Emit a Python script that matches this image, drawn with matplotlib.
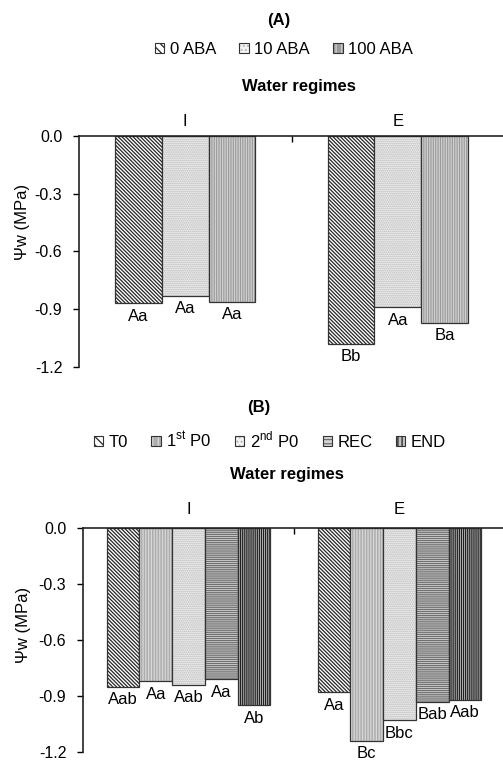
import matplotlib
matplotlib.use('Agg')
import matplotlib.pyplot as plt
import numpy as np
from matplotlib.patches import Patch
from matplotlib.ticker import FormatStrFormatter

plt.rcParams['font.family'] = ['Liberation Sans', 'DejaVu Sans']
plt.rcParams['mathtext.fontset'] = 'custom'
plt.rcParams['mathtext.rm'] = 'Liberation Sans'
plt.rcParams['axes.unicode_minus'] = False
plt.rcParams['hatch.linewidth'] = 0.9

# dados
regimes = ['I', 'E']

aba_names = ['0 ABA', '10 ABA', '100 ABA']
aba_values = [[-0.87, -1.08],
              [-0.83, -0.89],
              [-0.86, -0.97]]
aba_letters = [['Aa', 'Bb'],
               ['Aa', 'Aa'],
               ['Aa', 'Ba']]

time_names = ['T0', '1$^{\\mathrm{st}}$ P0', '2$^{\\mathrm{nd}}$ P0', 'REC', 'END']
time_values = [[-0.85, -0.88],
               [-0.82, -1.14],
               [-0.84, -1.03],
               [-0.81, -0.93],
               [-0.95, -0.92]]
time_letters = [['Aab', 'Aa'],
                ['Aa', 'Bc'],
                ['Aab', 'Bbc'],
                ['Aa', 'Bab'],
                ['Ab', 'Aab']]

yticks = [0.0, -0.3, -0.6, -0.9, -1.2]

# estilos (cor de fundo, cor da hachura, hachura)
diag = ('white', '#262626', '\\' * 9)
dots = ('#f4f4f4', '#b4b4b4', '.' * 8)
vgray = ('#9a9a9a', '#d0d0d0', '|' * 7)
vlight = ('#adadad', '#d8d8d8', '|' * 6)
hstripe = ('#d4d4d4', '#707070', '-' * 8)
vdark = ('#c4c4c4', '#202020', '|' * 8)

styles_A = [diag, dots, vgray]
styles_B = [diag, vlight, dots, hstripe, vdark]


def draw_panel(ax, values, letters, styles, width):
    x = np.arange(len(regimes))
    n = len(values)
    handles = []
    for i in range(n):
        off = (i - (n - 1) / 2) * width
        fc, hc, h = styles[i]
        ax.bar(x + off, values[i], width, color=fc, edgecolor=hc, hatch=h, linewidth=0)
        ax.bar(x + off, values[i], width, fill=False, edgecolor='#333333', linewidth=0.9)
        for j in range(len(x)):
            ax.annotate(letters[i][j], (x[j] + off, values[i][j]), xytext=(0, -4),
                        textcoords='offset points', ha='center', va='top', fontsize=12)
        handles.append((Patch(facecolor=fc, edgecolor=hc, hatch=h[:len(h) // 2], linewidth=0),
                        Patch(fill=False, edgecolor='#333333', linewidth=0.8)))

    ax.set_xlim(-0.5, 1.5)
    ax.set_ylim(-1.2, 0)
    ax.set_yticks(yticks)
    ax.yaxis.set_major_formatter(FormatStrFormatter('%.1f'))
    ax.tick_params(axis='y', direction='out', length=4, width=1, pad=8, labelsize=11.5)

    ax.xaxis.tick_top()
    ax.set_xticks(x)
    ax.set_xticklabels(regimes, fontsize=12)
    ax.set_xticks([0.5], minor=True)
    ax.tick_params(axis='x', which='major', length=0)
    ax.tick_params(axis='x', which='minor', direction='in', length=4, width=1)

    for s in ['bottom', 'right']:
        ax.spines[s].set_visible(False)
    for s in ['top', 'left']:
        ax.spines[s].set_linewidth(1.2)
        ax.spines[s].set_color('#222222')
    ax.set_ylabel('Ψw (MPa)', fontsize=12)
    return handles


fig = plt.figure(figsize=(5.03, 7.63), dpi=100)

# painel A
axA = fig.add_axes([79 / 503, 1 - 367 / 763, 425 / 503, 231 / 763])
hA = draw_panel(axA, aba_values, aba_letters, styles_A, 0.22)
axA.tick_params(axis='x', which='major', pad=5)
axA.yaxis.set_label_coords(-0.115, 0.63)
fig.text(279 / 503, 1 - 21 / 763, '(A)', ha='center', va='center', fontsize=12, fontweight='bold')
fig.text(299 / 503, 1 - 86 / 763, 'Water regimes', ha='center', va='center', fontsize=12, fontweight='bold')
fig.legend(hA, aba_names, loc='center', bbox_to_anchor=(284 / 503, 1 - 49 / 763), ncol=3,
           frameon=False, fontsize=12, handlelength=0.55, handleheight=0.55,
           handletextpad=0.35, columnspacing=1.4, borderpad=0)

# painel B
axB = fig.add_axes([83 / 503, 1 - 752 / 763, 422 / 503, 224 / 763])
hB = draw_panel(axB, time_values, time_letters, styles_B, 0.155)
axB.tick_params(axis='x', which='major', pad=8)
axB.yaxis.set_label_coords(-0.123, 0.567)
fig.text(259 / 503, 1 - 407 / 763, '(B)', ha='center', va='center', fontsize=12, fontweight='bold')
fig.text(287 / 503, 1 - 475 / 763, 'Water regimes', ha='center', va='center', fontsize=12, fontweight='bold')
fig.legend(hB, time_names, loc='center', bbox_to_anchor=(270 / 503, 1 - 440 / 763), ncol=5,
           frameon=False, fontsize=12, handlelength=0.55, handleheight=0.55,
           handletextpad=0.35, columnspacing=1.4, borderpad=0)

fig.savefig('out.png', dpi=100)
